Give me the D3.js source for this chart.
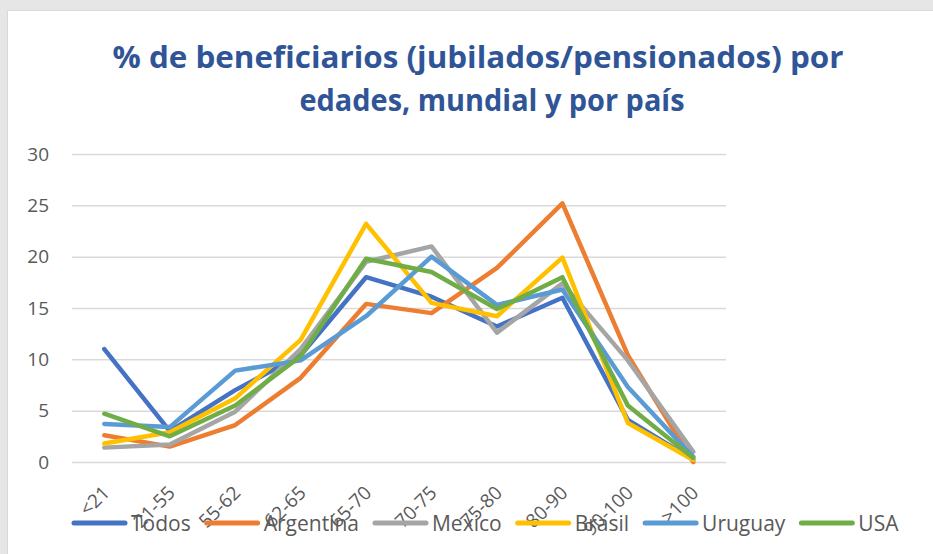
<!doctype html>
<html>
<head>
<meta charset="utf-8">
<script src="https://d3js.org/d3.v7.min.js"></script>
<style>
  body { margin: 0; background: #e6e6e6; }
  text { font-family: "Open Sans", "Noto Sans", sans-serif; }
</style>
</head>
<body>
<div id="chart"></div>
<script>
  var categories = ["<21", "21-55", "55-62", "62-65", "65-70", "70-75", "75-80", "80-90", "90-100", ">100"];
  var seriesNames = ["Todos", "Argentina", "Mexico", "Brasil", "Uruguay", "USA"];
  var todos     = [11.0, 3.0, 7.0, 10.4, 18.0, 16.1, 13.2, 16.0, 4.1, 0.2];
  var argentina = [2.6, 1.5, 3.6, 8.2, 15.4, 14.5, 18.9, 25.2, 10.4, 0.0];
  var mexico    = [1.4, 1.7, 4.9, 11.0, 19.5, 21.0, 12.6, 17.4, 9.9, 1.0];
  var brasil    = [1.8, 2.9, 6.2, 11.9, 23.2, 15.5, 14.2, 19.9, 3.8, 0.2];
  var uruguay   = [3.7, 3.4, 8.9, 9.9, 14.2, 20.0, 15.3, 16.8, 7.3, 0.5];
  var usa       = [4.7, 2.5, 5.5, 10.3, 19.8, 18.5, 14.9, 18.0, 5.5, 0.4];
  var yTicks = [0, 5, 10, 15, 20, 25, 30];
  var colors = ["#4472c4", "#ed7d31", "#a5a5a5", "#ffc000", "#5b9bd5", "#70ad47"];

  var allSeries = [todos, argentina, mexico, brasil, uruguay, usa];
  var W = 933, H = 554;

  var svg = d3.select("#chart").append("svg")
      .attr("width", W).attr("height", H);

  // chart area
  svg.append("rect").attr("x", 7.5).attr("y", 10.5)
      .attr("width", W).attr("height", H)
      .attr("fill", "#fff").attr("stroke", "#d9d9d9");

  // title
  var title = svg.append("text")
      .attr("text-anchor", "middle")
      .attr("fill", "#2f5597")
      .style("font-weight", "bold")
      .style("font-size", "30px");
  title.append("tspan").attr("x", 478).attr("y", 68)
      .attr("textLength", 731).attr("lengthAdjust", "spacingAndGlyphs")
      .text("% de beneficiarios (jubilados/pensionados) por");
  title.append("tspan").attr("x", 492).attr("y", 111)
      .attr("textLength", 385).attr("lengthAdjust", "spacingAndGlyphs")
      .text("edades, mundial y por país");

  var x = d3.scalePoint().domain(categories).range([71.6, 726]).padding(0.5);
  var y = d3.scaleLinear().domain([0, 30]).range([462, 154]);

  // y axis + gridlines
  var gy = svg.append("g").attr("transform", "translate(72,0)")
      .call(d3.axisLeft(y).tickValues(yTicks).tickSize(-(726 - 72)).tickPadding(23));
  gy.select(".domain").remove();
  gy.selectAll(".tick line").attr("stroke", "#d9d9d9").attr("stroke-width", 1.5);
  gy.selectAll(".tick text").attr("fill", "#595959").style("font-size", "19px")
      .style("font-family", "'Open Sans', sans-serif");

  // x axis labels
  var gx = svg.append("g").attr("transform", "translate(0,462)")
      .call(d3.axisBottom(x).tickSize(0).tickPadding(0));
  gx.select(".domain").remove();
  gx.selectAll(".tick text")
      .attr("fill", "#595959").style("font-size", "19px")
      .style("font-family", "'Open Sans', sans-serif")
      .attr("text-anchor", "end")
      .attr("dy", null).attr("y", null)
      .attr("transform", "translate(6,32) rotate(-45)");

  // lines
  var line = d3.line()
      .x(function(d, i) { return x(categories[i]); })
      .y(function(d) { return y(d); });

  svg.append("g").selectAll("path")
      .data(allSeries)
      .enter().append("path")
      .attr("d", line)
      .attr("fill", "none")
      .attr("stroke", function(d, i) { return colors[i]; })
      .attr("stroke-width", 4.5)
      .attr("stroke-linejoin", "round")
      .attr("stroke-linecap", "round");

  // legend
  var legend = svg.append("g").attr("transform", "translate(0,523)");
  var lx = 72;
  seriesNames.forEach(function(name, i) {
    legend.append("line")
        .attr("x1", lx + 2).attr("x2", lx + 53)
        .attr("y1", 0).attr("y2", 0)
        .attr("stroke", colors[i]).attr("stroke-width", 5)
        .attr("stroke-linecap", "round");
    var t = legend.append("text")
        .attr("x", lx + 59).attr("y", 7.5)
        .attr("fill", "#595959").style("font-size", "21px")
        .text(name);
    lx = lx + 59 + t.node().getComputedTextLength() + 14;
  });
</script>
</body>
</html>
